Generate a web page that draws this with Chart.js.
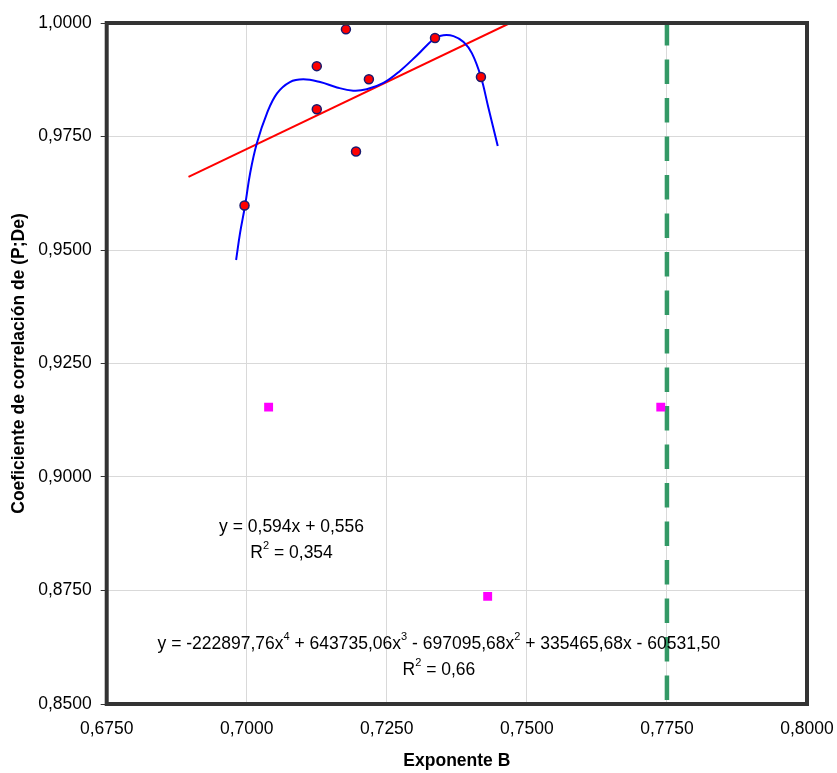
<!DOCTYPE html>
<html>
<head>
<meta charset="utf-8">
<script src="https://cdn.jsdelivr.net/npm/chart.js@4/dist/chart.umd.min.js"></script>
<style>
  html, body { margin: 0; padding: 0; background: #fff; }
  #wrap { width: 837px; height: 773px; position: relative; }
</style>
</head>
<body>
<div id="wrap"><canvas id="chart"></canvas></div>
<script>
// ── Data ────────────────────────────────────────────────────────────────────
const X_MIN = 0.675, X_MAX = 0.8, X_STEP = 0.025;
const Y_MIN = 0.85,  Y_MAX = 1.0, Y_STEP = 0.025;

// observed points (red dots)
const obsB = [0.6996, 0.7125, 0.7125, 0.7177, 0.7195, 0.7218, 0.7336, 0.7418];
const obsR = [0.9598, 0.9905, 0.9810, 0.9986, 0.9717, 0.9876, 0.9967, 0.9881];

// excluded points (magenta squares)
const outB = [0.7039, 0.7430, 0.7739];
const outR = [0.9154, 0.8737, 0.9154];

// linear trend line (end points)
const linB = [0.6896, 0.7470];
const linR = [0.9661, 1.0000];

// 4th order polynomial trend
const polyB = [0.6981, 0.6988, 0.6997, 0.7006, 0.7018, 0.7036, 0.7054, 0.7077,
               0.7101, 0.7131, 0.7161, 0.7190, 0.7214, 0.7244, 0.7274, 0.7304,
               0.7336, 0.7351, 0.7369, 0.7387, 0.7402, 0.7418, 0.7431, 0.7448];
const polyR = [0.9478, 0.9537, 0.9598, 0.9669, 0.9735, 0.9801, 0.9845, 0.9870,
               0.9876, 0.9870, 0.9858, 0.9851, 0.9854, 0.9868, 0.9895, 0.9929,
               0.9967, 0.9973, 0.9971, 0.9958, 0.9933, 0.9881, 0.9815, 0.9729];

// vertical reference line
const limB = [0.775, 0.775];
const limR = [0.85, 1.0];

const X_TITLE = 'Exponente B';
const Y_TITLE = 'Coeficiente de correlación de (P;De)';

// trendline labels ('^n' = superscript)
const eqLines = [
  { text: 'y = 0,594x + 0,556', b: 0.7080, r: 0.8890 },
  { text: 'R^2 = 0,354',        b: 0.7080, r: 0.8832 },
  { text: 'y = -222897,76x^4 + 643735,06x^3 - 697095,68x^2 + 335465,68x - 60531,50', b: 0.7343, r: 0.8632 },
  { text: 'R^2 = 0,66',         b: 0.7343, r: 0.8575 },
];

// ── Styling ─────────────────────────────────────────────────────────────────
const FONT = "'Liberation Sans', Arial, sans-serif";
const TXT_FONT = `17.5px ${FONT}`;
const SUP_FONT = `11px ${FONT}`;
const pts = (xs, ys) => xs.map((x, i) => ({ x, y: ys[i] }));
const fmt = v => (+v).toFixed(4).replace('.', ',');

// frame round the plot area
const framePlugin = {
  id: 'frame',
  afterDatasetsDraw(chart) {
    const { ctx, chartArea: a } = chart;
    ctx.save();
    ctx.strokeStyle = '#333333';
    ctx.lineWidth = 4;
    ctx.strokeRect(a.left, a.top, a.right - a.left, a.bottom - a.top);
    ctx.restore();
  },
};

// equation labels with superscripts
const eqPlugin = {
  id: 'equations',
  afterDraw(chart) {
    const { ctx, scales } = chart;
    ctx.save();
    ctx.fillStyle = '#000';
    ctx.textBaseline = 'middle';
    ctx.textAlign = 'left';
    eqLines.forEach(line => {
      const parts = line.text.split(/\^(\d)/).map((t, i) => [t, i % 2 === 1]);
      let total = 0;
      parts.forEach(([t, sup]) => {
        ctx.font = sup ? SUP_FONT : TXT_FONT;
        total += ctx.measureText(t).width;
      });
      let x = scales.x.getPixelForValue(line.b) - total / 2;
      const y = scales.y.getPixelForValue(line.r);
      parts.forEach(([t, sup]) => {
        ctx.font = sup ? SUP_FONT : TXT_FONT;
        ctx.fillText(t, x, sup ? y - 7 : y);
        x += ctx.measureText(t).width;
      });
    });
    ctx.restore();
  },
};

Chart.defaults.font.family = FONT;
Chart.defaults.color = '#000';

new Chart(document.getElementById('chart'), {
  type: 'scatter',
  data: {
    datasets: [
      {
        label: 'observados',
        data: pts(obsB, obsR),
        backgroundColor: '#ff0000',
        borderColor: '#1a1a6e',
        borderWidth: 1.5,
        pointRadius: 4.5,
        order: 0,
      },
      {
        label: 'excluidos',
        data: pts(outB, outR),
        pointStyle: 'rect',
        backgroundColor: '#ff00ff',
        borderColor: '#ff00ff',
        borderWidth: 0,
        pointRadius: 6.3,
        order: 1,
      },
      {
        label: 'polinómica',
        data: pts(polyB, polyR),
        showLine: true,
        borderColor: '#0000ff',
        borderWidth: 2,
        pointRadius: 0,
        tension: 0.4,
        order: 2,
      },
      {
        label: 'lineal',
        data: pts(linB, linR),
        showLine: true,
        borderColor: '#ff0000',
        borderWidth: 2,
        pointRadius: 0,
        order: 3,
      },
      {
        label: 'límite',
        data: pts(limB, limR),
        showLine: true,
        borderColor: '#339966',
        borderWidth: 4.5,
        borderDash: [24.5, 14],
        borderDashOffset: 34.5,
        pointRadius: 0,
        order: 4,
      },
    ],
  },
  options: {
    responsive: true,
    maintainAspectRatio: false,
    animation: false,
    layout: { padding: { left: 0, top: 23, right: 30, bottom: 0 } },
    plugins: {
      legend: { display: false },
      tooltip: { enabled: false },
    },
    scales: {
      x: {
        type: 'linear',
        min: X_MIN, max: X_MAX,
        afterFit: s => { s.height = 69; s.paddingLeft = 0; s.paddingRight = 0; },
        ticks: {
          stepSize: X_STEP,
          padding: 15,
          color: '#000',
          font: { size: 17.5 },
          callback: fmt,
        },
        grid: { color: '#d9d9d9', drawTicks: false },
        border: { display: false },
        title: {
          display: true,
          text: X_TITLE,
          color: '#000',
          font: { size: 17.5, weight: 'bold' },
          padding: { top: 0, bottom: 1 },
        },
      },
      y: {
        type: 'linear',
        min: Y_MIN, max: Y_MAX,
        afterFit: s => { s.width = 106.7; s.paddingTop = 0; s.paddingBottom = 0; },
        ticks: {
          stepSize: Y_STEP,
          padding: 9,
          color: '#000',
          font: { size: 17.5 },
          callback: fmt,
        },
        grid: { color: '#d9d9d9', tickColor: '#333333', tickLength: 6 },
        border: { display: false },
        title: {
          display: true,
          text: Y_TITLE,
          color: '#000',
          font: { size: 17.5, weight: 'bold' },
          padding: { top: 9, bottom: 0 },
        },
      },
    },
  },
  plugins: [framePlugin, eqPlugin],
});
</script>
</body>
</html>
